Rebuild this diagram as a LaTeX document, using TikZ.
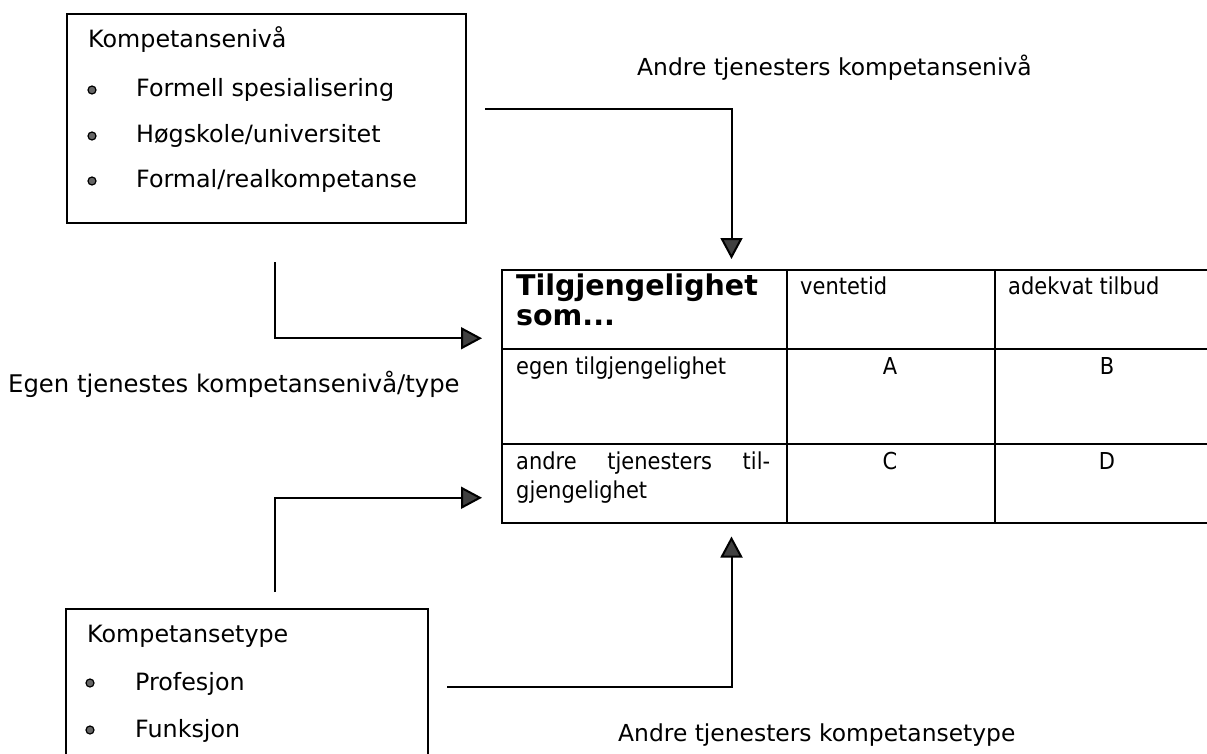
\documentclass[tikz,border=0pt]{standalone}
\usepackage{fontspec}
\setmainfont{DejaVu Sans}
\newfontfamily\smalfont[FakeStretch=0.9]{DejaVu Sans}
\usetikzlibrary{arrows.meta,positioning}

\tikzset{
  boks/.style={draw, line width=2pt, anchor=north west, inner sep=0pt},
  celle/.style={draw, line width=1.5pt, anchor=north west, inner sep=0pt},
  tekst/.style={anchor=base west, inner sep=0pt, font=\fontsize{23.8}{28}\selectfont},
  etikett/.style={anchor=base west, inner sep=0pt, font=\fontsize{23.4}{28}\selectfont},
  tabtekst/.style={anchor=base west, inner sep=0pt, align=left, font=\smalfont\fontsize{23.3}{29}\selectfont},
  bokstav/.style={anchor=base, inner sep=0pt, font=\smalfont\fontsize{23.3}{28}\selectfont},
  prikk/.style={circle, draw=black, fill=black!60, line width=1.2pt, minimum size=8pt, inner sep=0pt},
  pil/.style={line width=2pt, -{Triangle[width=22pt,length=21pt,fill=black!75]}},
}

\begin{document}
\begin{tikzpicture}[x=1pt, y=-1pt]
    \useasboundingbox (0,0) rectangle (1207,754);
    \clip (0,0) rectangle (1207,754);

    % kompetansenivaa
    \node[boks, minimum width=399pt, minimum height=209pt] (nivaa) at (66,13) {};
    \node[tekst] (nivaatittel) at (88,48) {Kompetansenivå};
    \node[tekst] (formell) at (136,97) {Formell spesialisering};
    \node[tekst] (hogskole) at (136,143) {Høgskole/universitet};
    \node[tekst] (formal) at (136,188) {Formal/realkompetanse};
    \node[prikk] (prikk1) at (92,90) {};
    \node[prikk] (prikk2) at (92,136) {};
    \node[prikk] (prikk3) at (92,181) {};

    % kompetansetype
    \node[boks, minimum width=362pt, minimum height=170pt] (type) at (65,608) {};
    \node[tekst] (typetittel) at (87,642) {Kompetansetype};
    \node[tekst] (profesjon) at (135,690) {Profesjon};
    \node[tekst] (funksjon) at (135,737) {Funksjon};
    \node[prikk] (prikk4) at (90,683) {};
    \node[prikk] (prikk5) at (90,730) {};

    % tabellen
    \node[celle, minimum width=285pt, minimum height=79pt] (hode) at (501,269) {};
    \node[celle, minimum width=208pt, minimum height=79pt] (vente) at (786,269) {};
    \node[celle, minimum width=226pt, minimum height=79pt] (tilbud) at (994,269) {};
    \node[celle, minimum width=285pt, minimum height=95pt] (egen) at (501,348) {};
    \node[celle, minimum width=208pt, minimum height=95pt] (cellA) at (786,348) {};
    \node[celle, minimum width=226pt, minimum height=95pt] (cellB) at (994,348) {};
    \node[celle, minimum width=285pt, minimum height=79pt] (andre) at (501,443) {};
    \node[celle, minimum width=208pt, minimum height=79pt] (cellC) at (786,443) {};
    \node[celle, minimum width=226pt, minimum height=79pt] (cellD) at (994,443) {};

    \node[tabtekst, font=\bfseries\fontsize{28.5}{30}\selectfont] (hodetekst) at (516,325) {Tilgjengelighet\\som...};
    \node[tabtekst] (ventetekst) at (800,294) {ventetid};
    \node[tabtekst] (tilbudtekst) at (1008,294) {adekvat tilbud};
    \node[tabtekst] (egentekst) at (516,374) {egen tilgjengelighet};
    \node[tabtekst] (andretekst) at (516,498) {\makebox[254pt][s]{andre tjenesters til-}\\gjengelighet};
    \node[bokstav] (A) at (890,374) {A};
    \node[bokstav] (B) at (1107,374) {B};
    \node[bokstav] (C) at (890,469) {C};
    \node[bokstav] (D) at (1107,469) {D};

    % etiketter
    \node[etikett] (andreniva) at (637,76) {Andre tjenesters kompetansenivå};
    \node[tekst, font=\fontsize{24.3}{28}\selectfont] (egentype) at (8,392) {Egen tjenestes kompetansenivå/type};
    \node[etikett] (andretype) at (618,741) {Andre tjenesters kompetansetype};

    % piler
    \draw[pil, shorten >=10pt] ([shift={(18,-9.5)}]nivaa.east) -| ([xshift=-56pt]hode.north east);
    \draw[pil, shorten >=19pt] ([shift={(8,38)}]nivaa.south) |- ([yshift=-29pt]hode.west);
    \draw[pil, shorten >=19pt] ([shift={(27.5,-16)}]type.north) |- ([yshift=-14.5pt]andre.west);
    \draw[pil, shorten >=13pt] ([shift={(18,-7)}]type.east) -| ([xshift=-56pt]andre.south east);
\end{tikzpicture}
\end{document}
